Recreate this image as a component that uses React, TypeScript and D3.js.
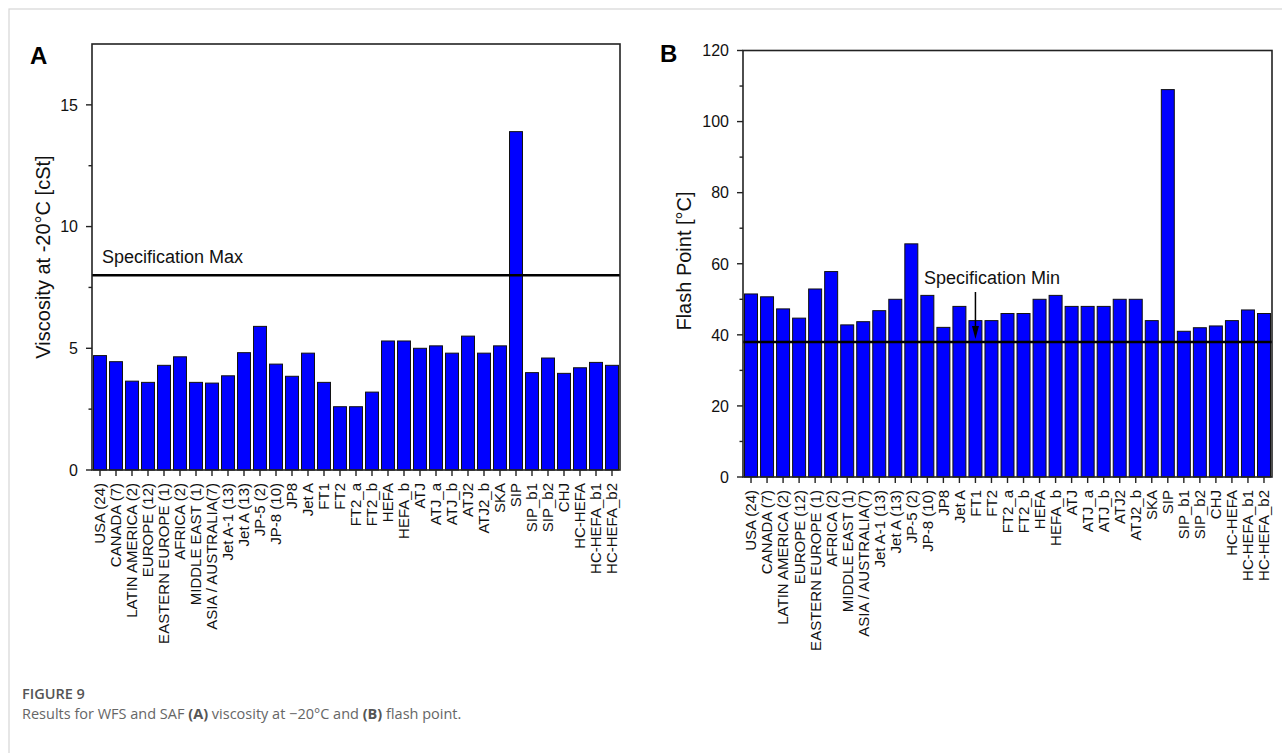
import React from "react";
import * as d3 from "d3";

const categories = [
  "USA (24)", "CANADA (7)", "LATIN AMERICA (2)", "EUROPE (12)", "EASTERN EUROPE (1)",
  "AFRICA (2)", "MIDDLE EAST (1)", "ASIA / AUSTRALIA(7)", "Jet A-1 (13)", "Jet A (13)",
  "JP-5 (2)", "JP-8 (10)", "JP8", "Jet A", "FT1", "FT2", "FT2_a", "FT2_b", "HEFA", "HEFA_b",
  "ATJ", "ATJ_a", "ATJ_b", "ATJ2", "ATJ2_b", "SKA", "SIP", "SIP_b1", "SIP_b2", "CHJ",
  "HC-HEFA", "HC-HEFA_b1", "HC-HEFA_b2",
];

const viscosity = [
  4.7, 4.45, 3.65, 3.6, 4.3, 4.65, 3.6, 3.57, 3.87, 4.82,
  5.9, 4.35, 3.85, 4.8, 3.6, 2.6, 2.6, 3.2, 5.3, 5.3,
  5.0, 5.1, 4.8, 5.5, 4.8, 5.1, 13.9, 4.0, 4.6, 3.97,
  4.2, 4.42, 4.3,
];

const flashPoint = [
  51.5, 50.7, 47.3, 44.7, 52.9, 57.8, 42.8, 43.7, 46.8, 50.0,
  65.6, 51.1, 42.1, 48.0, 44.0, 44.0, 46.0, 46.0, 50.0, 51.1,
  48.0, 48.0, 48.0, 50.0, 50.0, 44.0, 109.0, 41.0, 42.0, 42.5,
  44.0, 47.0, 46.0,
];

const viscMajorTicks = [0, 5, 10, 15];
const viscMinorTicks = [2.5, 7.5, 12.5];
const flashMajorTicks = [0, 20, 40, 60, 80, 100, 120];
const flashMinorTicks = [10, 30, 50, 70, 90, 110];

const specMax = 8;
const specMin = 38;
const specMinArrowCategory = "FT1";

const FONT = "'Liberation Sans', Arial, Helvetica, sans-serif";

type PanelProps = {
  letter: string;
  letterX: number;
  letterY: number;
  left: number;
  right: number;
  top: number;
  bottom: number;
  yMax: number;
  values: number[];
  major: number[];
  minor: number[];
  title: string;
  titleX: number;
  titleY: number;
  children?: (y: d3.ScaleLinear<number, number>, x: d3.ScaleBand<string>) => React.ReactNode;
};

function Panel(p: PanelProps) {
  const x = d3
    .scaleBand<string>()
    .domain(categories)
    .range([p.left, p.right])
    .paddingInner(0.19)
    .paddingOuter(0.095);
  const y = d3.scaleLinear().domain([0, p.yMax]).range([p.bottom, p.top]);
  const bw = x.bandwidth();
  return (
    <g>
      <text x={p.letterX} y={p.letterY} fontFamily={FONT} fontWeight="bold" fontSize={24} fill="#000">
        {p.letter}
      </text>
      {p.values.map((v, i) => {
        const c = categories[i];
        return (
          <rect
            key={c + i}
            x={x(c)!}
            y={y(v)}
            width={bw}
            height={y(0) - y(v)}
            fill="#0000ff"
            stroke="#111"
            strokeWidth={1}
          />
        );
      })}
      {p.children && p.children(y, x)}
      <rect
        x={p.left}
        y={p.top}
        width={p.right - p.left}
        height={p.bottom - p.top}
        fill="none"
        stroke="#222"
        strokeWidth={1.6}
      />
      {p.major.map((t) => (
        <g key={"M" + t}>
          <line x1={p.left - 6} x2={p.left} y1={y(t)} y2={y(t)} stroke="#222" strokeWidth={1.4} />
          <text
            x={p.left - 14}
            y={y(t)}
            dy="0.36em"
            textAnchor="end"
            fontFamily={FONT}
            fontSize={16}
            fill="#111"
          >
            {t}
          </text>
        </g>
      ))}
      {p.minor.map((t) => (
        <line key={"m" + t} x1={p.left - 3.5} x2={p.left} y1={y(t)} y2={y(t)} stroke="#222" strokeWidth={1.4} />
      ))}
      {categories.map((c) => {
        const cx = x(c)! + bw / 2;
        return (
          <g key={"x" + c}>
            <line x1={cx} x2={cx} y1={p.bottom} y2={p.bottom + 6} stroke="#222" strokeWidth={1.4} />
            <text
              transform={`translate(${cx},${p.bottom + 13}) rotate(-90)`}
              dy="0.36em"
              textAnchor="end"
              fontFamily={FONT}
              fontSize={15}
              fill="#111"
            >
              {c}
            </text>
          </g>
        );
      })}
      <text
        transform={`translate(${p.titleX},${p.titleY}) rotate(-90)`}
        dy="0.36em"
        textAnchor="middle"
        fontFamily={FONT}
        fontSize={20}
        fill="#111"
      >
        {p.title}
      </text>
    </g>
  );
}

export default function App() {
  return (
    <svg
      width={1282}
      height={753}
      style={{ position: "absolute", left: 0, top: 0, background: "#fff" }}
    >
      <rect x={0} y={0} width={1282} height={753} fill="#fff" />
      <rect x={9} y={9} width={1400} height={900} fill="none" stroke="#d6d6d6" strokeWidth={1.2} />
      <Panel
        letter="A"
        letterX={30}
        letterY={64}
        left={92}
        right={620}
        top={44}
        bottom={470}
        yMax={17.5}
        values={viscosity}
        major={viscMajorTicks}
        minor={viscMinorTicks}
        title="Viscosity at -20°C [cSt]"
        titleX={43}
        titleY={257}
      >
        {(y) => (
          <g>
            <line x1={92} x2={620} y1={y(specMax)} y2={y(specMax)} stroke="#000" strokeWidth={2.5} />
            <text x={102} y={y(specMax) - 12} fontFamily={FONT} fontSize={18} fill="#111">
              Specification Max
            </text>
          </g>
        )}
      </Panel>
      <Panel
        letter="B"
        letterX={660}
        letterY={62}
        left={743}
        right={1272}
        top={50.5}
        bottom={477}
        yMax={120}
        values={flashPoint}
        major={flashMajorTicks}
        minor={flashMinorTicks}
        title="Flash Point [°C]"
        titleX={684}
        titleY={261}
      >
        {(y, x) => {
          const ax = x(specMinArrowCategory)! + x.bandwidth() / 2;
          const tip = y(specMin) - 3;
          return (
            <g>
              <line x1={743} x2={1272} y1={y(specMin)} y2={y(specMin)} stroke="#000" strokeWidth={2.5} />
              <text x={924} y={284} fontFamily={FONT} fontSize={18} fill="#111">
                Specification Min
              </text>
              <line x1={ax} x2={ax} y1={292} y2={tip - 10} stroke="#000" strokeWidth={1.5} />
              <path d={`M${ax - 3.5},${tip - 13} L${ax + 3.5},${tip - 13} L${ax},${tip} Z`} fill="#000" />
            </g>
          );
        }}
      </Panel>
      <text x={22} y={699} fontFamily="'Open Sans', 'Noto Sans', sans-serif" fontWeight={600} fontSize={14.5} fill="#555">
        FIGURE 9
      </text>
      <text x={22} y={719} fontFamily="'Open Sans', 'Noto Sans', sans-serif" fontSize={14.5} fill="#666">
        Results for WFS and SAF <tspan fontWeight={700} fill="#555">(A)</tspan> viscosity at −20°C and{" "}
        <tspan fontWeight={700} fill="#555">(B)</tspan> flash point.
      </text>
    </svg>
  );
}
